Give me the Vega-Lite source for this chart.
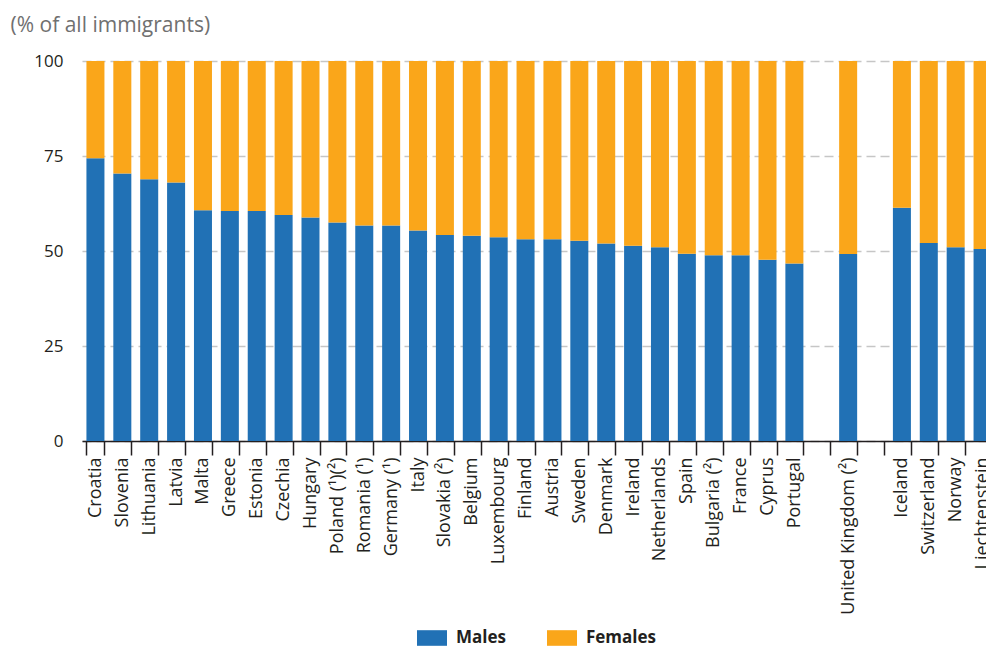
{
  "$schema": "https://vega.github.io/schema/vega-lite/v6.json",
  "autosize": {"type": "none"},
  "padding": {"left": 82, "top": 61, "right": 0, "bottom": 207},
  "width": 904,
  "height": 380,
  "background": "white",
  "config": {
    "view": {"stroke": null},
    "font": "Open Sans"
  },
  "data": {
    "values": [
      {"country": "Croatia", "sex": "Males", "o": 1, "value": 74.4},
      {"country": "Croatia", "sex": "Females", "o": 2, "value": 25.6},
      {"country": "Slovenia", "sex": "Males", "o": 1, "value": 70.4},
      {"country": "Slovenia", "sex": "Females", "o": 2, "value": 29.6},
      {"country": "Lithuania", "sex": "Males", "o": 1, "value": 68.9},
      {"country": "Lithuania", "sex": "Females", "o": 2, "value": 31.1},
      {"country": "Latvia", "sex": "Males", "o": 1, "value": 68.0},
      {"country": "Latvia", "sex": "Females", "o": 2, "value": 32.0},
      {"country": "Malta", "sex": "Males", "o": 1, "value": 60.7},
      {"country": "Malta", "sex": "Females", "o": 2, "value": 39.3},
      {"country": "Greece", "sex": "Males", "o": 1, "value": 60.5},
      {"country": "Greece", "sex": "Females", "o": 2, "value": 39.5},
      {"country": "Estonia", "sex": "Males", "o": 1, "value": 60.5},
      {"country": "Estonia", "sex": "Females", "o": 2, "value": 39.5},
      {"country": "Czechia", "sex": "Males", "o": 1, "value": 59.5},
      {"country": "Czechia", "sex": "Females", "o": 2, "value": 40.5},
      {"country": "Hungary", "sex": "Males", "o": 1, "value": 58.8},
      {"country": "Hungary", "sex": "Females", "o": 2, "value": 41.2},
      {"country": "Poland (¹)(²)", "sex": "Males", "o": 1, "value": 57.5},
      {"country": "Poland (¹)(²)", "sex": "Females", "o": 2, "value": 42.5},
      {"country": "Romania (¹)", "sex": "Males", "o": 1, "value": 56.7},
      {"country": "Romania (¹)", "sex": "Females", "o": 2, "value": 43.3},
      {"country": "Germany (¹)", "sex": "Males", "o": 1, "value": 56.7},
      {"country": "Germany (¹)", "sex": "Females", "o": 2, "value": 43.3},
      {"country": "Italy", "sex": "Males", "o": 1, "value": 55.4},
      {"country": "Italy", "sex": "Females", "o": 2, "value": 44.6},
      {"country": "Slovakia (²)", "sex": "Males", "o": 1, "value": 54.2},
      {"country": "Slovakia (²)", "sex": "Females", "o": 2, "value": 45.8},
      {"country": "Belgium", "sex": "Males", "o": 1, "value": 54.0},
      {"country": "Belgium", "sex": "Females", "o": 2, "value": 46.0},
      {"country": "Luxembourg", "sex": "Males", "o": 1, "value": 53.6},
      {"country": "Luxembourg", "sex": "Females", "o": 2, "value": 46.4},
      {"country": "Finland", "sex": "Males", "o": 1, "value": 53.1},
      {"country": "Finland", "sex": "Females", "o": 2, "value": 46.9},
      {"country": "Austria", "sex": "Males", "o": 1, "value": 53.1},
      {"country": "Austria", "sex": "Females", "o": 2, "value": 46.9},
      {"country": "Sweden", "sex": "Males", "o": 1, "value": 52.7},
      {"country": "Sweden", "sex": "Females", "o": 2, "value": 47.3},
      {"country": "Denmark", "sex": "Males", "o": 1, "value": 52.0},
      {"country": "Denmark", "sex": "Females", "o": 2, "value": 48.0},
      {"country": "Ireland", "sex": "Males", "o": 1, "value": 51.4},
      {"country": "Ireland", "sex": "Females", "o": 2, "value": 48.6},
      {"country": "Netherlands", "sex": "Males", "o": 1, "value": 51.0},
      {"country": "Netherlands", "sex": "Females", "o": 2, "value": 49.0},
      {"country": "Spain", "sex": "Males", "o": 1, "value": 49.3},
      {"country": "Spain", "sex": "Females", "o": 2, "value": 50.7},
      {"country": "Bulgaria (²)", "sex": "Males", "o": 1, "value": 48.9},
      {"country": "Bulgaria (²)", "sex": "Females", "o": 2, "value": 51.1},
      {"country": "France", "sex": "Males", "o": 1, "value": 48.9},
      {"country": "France", "sex": "Females", "o": 2, "value": 51.1},
      {"country": "Cyprus", "sex": "Males", "o": 1, "value": 47.7},
      {"country": "Cyprus", "sex": "Females", "o": 2, "value": 52.3},
      {"country": "Portugal", "sex": "Males", "o": 1, "value": 46.7},
      {"country": "Portugal", "sex": "Females", "o": 2, "value": 53.3},
      {"country": "United Kingdom (²)", "sex": "Males", "o": 1, "value": 49.2},
      {"country": "United Kingdom (²)", "sex": "Females", "o": 2, "value": 50.8},
      {"country": "Iceland", "sex": "Males", "o": 1, "value": 61.4},
      {"country": "Iceland", "sex": "Females", "o": 2, "value": 38.6},
      {"country": "Switzerland", "sex": "Males", "o": 1, "value": 52.1},
      {"country": "Switzerland", "sex": "Females", "o": 2, "value": 47.9},
      {"country": "Norway", "sex": "Males", "o": 1, "value": 51.0},
      {"country": "Norway", "sex": "Females", "o": 2, "value": 49.0},
      {"country": "Liechtenstein", "sex": "Males", "o": 1, "value": 50.5},
      {"country": "Liechtenstein", "sex": "Females", "o": 2, "value": 49.5}
    ]
  },
  "mark": {"type": "bar"},
  "encoding": {
    "x": {
      "field": "country",
      "type": "nominal",
      "scale": {
        "domain": ["Croatia", "Slovenia", "Lithuania", "Latvia", "Malta", "Greece", "Estonia", "Czechia", "Hungary", "Poland (¹)(²)", "Romania (¹)", "Germany (¹)", "Italy", "Slovakia (²)", "Belgium", "Luxembourg", "Finland", "Austria", "Sweden", "Denmark", "Ireland", "Netherlands", "Spain", "Bulgaria (²)", "France", "Cyprus", "Portugal", "gap1", "United Kingdom (²)", "gap2", "Iceland", "Switzerland", "Norway", "Liechtenstein"],
        "range": [0, 914],
        "paddingInner": 0.33,
        "paddingOuter": 0.165
      },
      "axis": {
        "title": null,
        "labelExpr": "(datum.value == 'gap1' || datum.value == 'gap2') ? '' : datum.label",
        "tickBand": "extent",
        "domainColor": "#231f20",
        "domainWidth": 1.5,
        "tickColor": "#231f20",
        "tickWidth": 1.5,
        "tickSize": 14,
        "labelAngle": -90,
        "labelAlign": "right",
        "labelBaseline": "middle",
        "labelPadding": 2,
        "labelFont": "Open Sans",
        "labelFontSize": 18,
        "labelColor": "#231f20",
        "labelOverlap": false,
        "labelLimit": 300,
        "grid": false
      }
    },
    "y": {
      "field": "value",
      "type": "quantitative",
      "stack": "zero",
      "scale": {"domain": [0, 100], "nice": false},
      "axis": {
        "values": [0, 25, 50, 75, 100],
        "title": "(% of all immigrants)",
        "titleAngle": 0,
        "titleAlign": "left",
        "titleBaseline": "alphabetic",
        "titleX": -72,
        "titleY": -30,
        "titleFont": "Open Sans",
        "titleFontSize": 21,
        "titleFontWeight": "normal",
        "titleColor": "#707070",
        "domain": false,
        "ticks": false,
        "labelPadding": 19,
        "labelFont": "Open Sans",
        "labelFontSize": 17,
        "labelColor": "#231f20",
        "grid": true,
        "gridColor": "#c6c6c6",
        "gridWidth": 1.3,
        "gridDash": [9, 5]
      }
    },
    "color": {
      "field": "sex",
      "type": "nominal",
      "scale": {"domain": ["Males", "Females"], "range": ["#2171B5", "#FAA61A"]},
      "legend": {
        "title": null,
        "orient": "none",
        "direction": "horizontal",
        "legendX": 335,
        "legendY": 562,
        "padding": 0,
        "symbolType": "M-1,-0.52H1V0.52H-1Z",
        "symbolSize": 900,
        "symbolStrokeWidth": 0,
        "symbolOpacity": 1,
        "labelOffset": 9,
        "columnPadding": 41,
        "labelFont": "Open Sans",
        "labelFontSize": 17,
        "labelFontWeight": "bold",
        "labelColor": "#231f20"
      }
    },
    "order": {"field": "o", "type": "quantitative"}
  }
}
